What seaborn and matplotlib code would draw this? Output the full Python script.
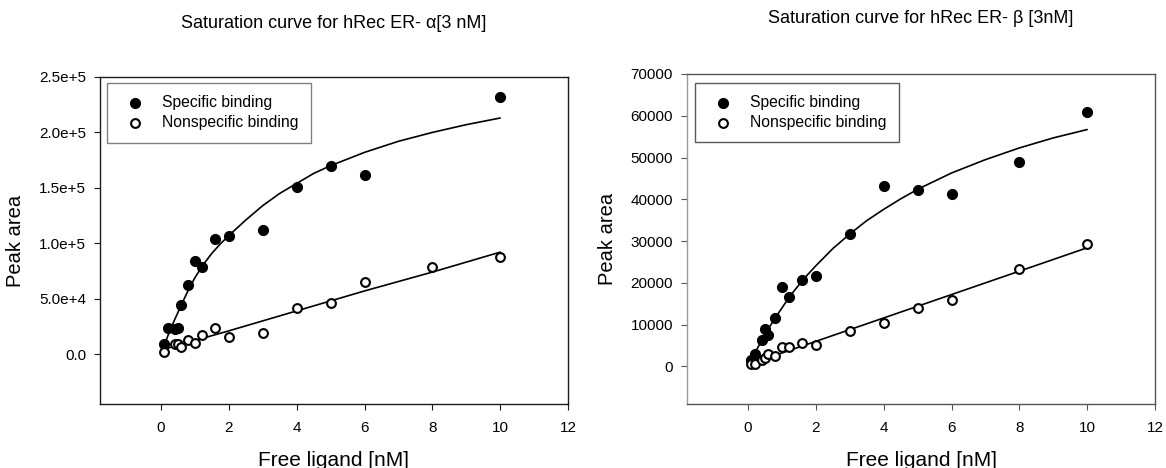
import numpy as np
import matplotlib
matplotlib.use("Agg")
import matplotlib.pyplot as plt
from matplotlib.ticker import FuncFormatter
import seaborn as sns

# ER-alpha data
alpha_spec_x = [0.1, 0.2, 0.4, 0.5, 0.6, 0.8, 1.0, 1.2, 1.6, 2, 3, 4, 5, 6, 10]
alpha_spec_y = [9.5e3, 2.35e4, 2.3e4, 2.4e4, 4.4e4, 6.2e4, 8.4e4, 7.9e4, 1.04e5,
                1.07e5, 1.12e5, 1.51e5, 1.70e5, 1.62e5, 2.32e5]
alpha_non_x = [0.1, 0.4, 0.5, 0.6, 0.8, 1.0, 1.2, 1.6, 2, 3, 4, 5, 6, 8, 10]
alpha_non_y = [1.5e3, 9.5e3, 9.0e3, 6.3e3, 1.3e4, 1.0e4, 1.7e4, 2.4e4, 1.55e4,
               1.9e4, 4.2e4, 4.6e4, 6.5e4, 7.85e4, 8.8e4]
# fitted curves as drawn in the figure
alpha_fit_x = [0.1, 0.2, 0.4, 0.6, 0.8, 1.0, 1.25, 1.5, 1.75, 2, 2.5, 3, 3.5,
               4, 4.5, 5, 6, 7, 8, 9, 10]
alpha_fit_y = [8.0e3, 1.65e4, 3.1e4, 4.45e4, 5.75e4, 6.9e4, 8.1e4, 9.1e4, 9.95e4,
               1.07e5, 1.21e5, 1.34e5, 1.45e5, 1.54e5, 1.63e5, 1.70e5, 1.82e5,
               1.92e5, 2.00e5, 2.07e5, 2.13e5]
alpha_lin_x = [0.1, 2, 4, 6, 8, 10]
alpha_lin_y = [4.5e3, 2.1e4, 3.9e4, 5.7e4, 7.4e4, 9.2e4]

# ER-beta data
beta_spec_x = [0.1, 0.2, 0.4, 0.5, 0.6, 0.8, 1.0, 1.2, 1.6, 2, 3, 4, 5, 6, 8, 10]
beta_spec_y = [1600, 3000, 6300, 8900, 7600, 11700, 18900, 16500, 20700, 21700,
               31800, 43100, 42300, 41300, 49000, 60900]
beta_non_x = [0.1, 0.2, 0.4, 0.5, 0.6, 0.8, 1.0, 1.2, 1.6, 2, 3, 4, 5, 6, 8, 10]
beta_non_y = [500, 500, 1500, 2000, 2950, 2400, 4600, 4600, 5600, 5200, 8500,
              10400, 14100, 16000, 23400, 29400]
beta_fit_x = [0.1, 0.2, 0.4, 0.6, 0.8, 1.0, 1.25, 1.5, 1.75, 2, 2.5, 3, 3.5,
              4, 4.5, 5, 6, 7, 8, 9, 10]
beta_fit_y = [1600, 3200, 6200, 9000, 11600, 14000, 17000, 19500, 21900, 24100,
              28200, 31700, 34900, 37600, 40100, 42400, 46300, 49500, 52300,
              54700, 56700]
beta_lin_x = [0.1, 2, 4, 6, 8, 10]
beta_lin_y = [700, 6000, 11600, 17200, 22800, 28400]


def sci_fmt(v, pos):
    if abs(v) < 1e-9:
        return "0.0"
    e = int(np.floor(np.log10(abs(v))))
    return f"{v / 10**e:.1f}e+{e}"


sns.set_style("ticks")
plt.rcParams["font.family"] = ["Liberation Sans", "DejaVu Sans"]
plt.rcParams["text.color"] = "black"
plt.rcParams["axes.labelcolor"] = "black"
plt.rcParams["xtick.labelcolor"] = "black"
plt.rcParams["ytick.labelcolor"] = "black"

fig = plt.figure(figsize=(11.66, 4.68), dpi=100)
ax1 = fig.add_axes([100 / 1166, 64 / 468, 468 / 1166, 327 / 468])
ax2 = fig.add_axes([687 / 1166, 64 / 468, 468 / 1166, 330 / 468])

panels = [
    (ax1, alpha_spec_x, alpha_spec_y, alpha_non_x, alpha_non_y,
     alpha_fit_x, alpha_fit_y, alpha_lin_x, alpha_lin_y,
     "Saturation curve for hRec ER- α[3 nM]", (-4.5e4, 2.5e5), 5e4),
    (ax2, beta_spec_x, beta_spec_y, beta_non_x, beta_non_y,
     beta_fit_x, beta_fit_y, beta_lin_x, beta_lin_y,
     "Saturation curve for hRec ER- β [3nM]", (-9000, 70000), 10000),
]

for (ax, sx, sy, nx, ny, fx, fy, lx, ly, title, ylim, ystep) in panels:
    sns.lineplot(x=fx, y=fy, color="black", lw=1.2, ax=ax, zorder=2)
    sns.lineplot(x=lx, y=ly, color="black", lw=1.2, ax=ax, zorder=2)
    sns.scatterplot(x=sx, y=sy, color="black", edgecolor="black", s=52,
                    linewidth=0.8, label="Specific binding", ax=ax, zorder=3)
    sns.scatterplot(x=nx, y=ny, color="white", edgecolor="black", s=40,
                    linewidth=1.5, label="Nonspecific binding", ax=ax, zorder=3)

    ax.set_xlim(-1.8, 12)
    ax.set_ylim(*ylim)
    ax.set_xticks(np.arange(0, 13, 2))
    ax.set_yticks(np.arange(0, ylim[1] + 1, ystep))
    ax.tick_params(direction="out", length=4, width=0.8, labelsize=11, pad=6)
    ax.tick_params(axis="x", pad=8)
    ax.set_xlabel("Free ligand [nM]", fontsize=15, labelpad=12)
    ax.set_ylabel("Peak area", fontsize=14.5, labelpad=10)
    leg = ax.legend(loc="upper left", fontsize=11.3, frameon=True, fancybox=False,
                    borderpad=0.8, handletextpad=0.7, labelspacing=0.3,
                    borderaxespad=0, markerscale=1.0)
    leg.get_frame().set_linewidth(1.0)

ax1.set_title(panels[0][9], fontsize=13, pad=35)
ax2.set_title(panels[1][9], fontsize=13, pad=37)

ax1.yaxis.set_major_formatter(FuncFormatter(sci_fmt))
ax2.yaxis.set_major_formatter(FuncFormatter(lambda v, p: f"{int(round(v))}"))

ax1.legend_.set_bbox_to_anchor((0.015, 0.982))
ax2.legend_.set_bbox_to_anchor((0.017, 0.974))
ax1.legend_.get_frame().set_edgecolor("#606060")
ax2.legend_.get_frame().set_edgecolor("#303030")

for sp in ax1.spines.values():
    sp.set_color("#1a1a1a")
    sp.set_linewidth(1.0)
ax1.tick_params(color="#1a1a1a")
for name, sp in ax2.spines.items():
    sp.set_color("#9a9a9a" if name == "left" else "#555555")
    sp.set_linewidth(1.0)
ax2.tick_params(color="#555555")

fig.savefig("out.png", dpi=100)
